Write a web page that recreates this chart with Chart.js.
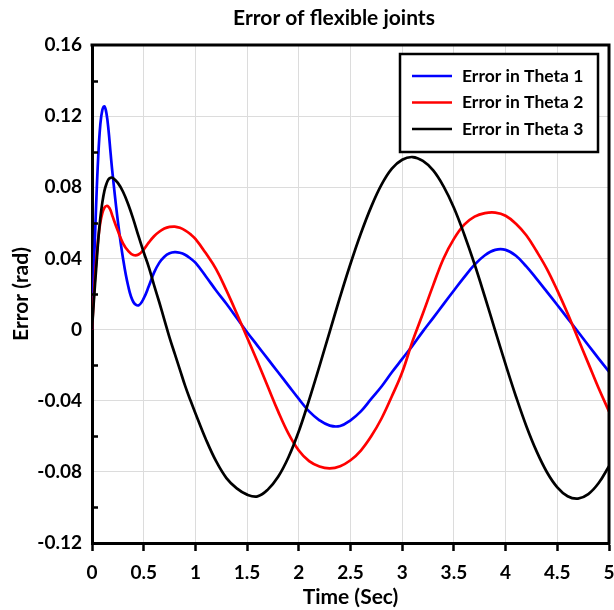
<!DOCTYPE html>
<html><head><meta charset="utf-8">
<script src="https://cdn.jsdelivr.net/npm/chart.js@4"></script>
<style>html,body{margin:0;padding:0;background:#fff}#wrap{width:614px;height:610px}</style>
</head><body><div id="wrap"><canvas id="c" width="614" height="610"></canvas></div>
<script>
const chartTitle = 'Error of flexible joints';
const xTitle = 'Time (Sec)';
const yTitle = 'Error (rad)';
const seriesNames = ['Error in Theta 1', 'Error in Theta 2', 'Error in Theta 3'];
const seriesColors = ['#0000ff', '#ff0000', '#000000'];

const timeSec = [0,0.02,0.04,0.06,0.08,0.10,0.12,0.14,0.16,0.18,0.20,
  0.25,0.30,0.35,0.40,0.45,0.50,0.55,0.60,0.65,0.70,0.75,0.80,0.85,0.90,0.95,1.0,
  1.1,1.2,1.3,1.4,1.5,1.6,1.7,1.8,1.9,2.0,2.1,2.2,2.3,2.4,2.5,2.6,2.7,2.8,2.9,3.0,
  3.1,3.2,3.3,3.4,3.5,3.6,3.7,3.8,3.9,4.0,4.1,4.2,4.3,4.4,4.5,4.6,4.7,4.8,4.9,5.0];

const theta1Err = [0,0.037,0.070,0.097,0.115,0.1235,0.1255,0.1215,0.112,0.099,0.087,
  0.061,0.040,0.0245,0.0155,0.0136,0.0175,0.0245,0.032,0.0375,0.041,0.0429,0.0435,0.0432,0.0421,0.0401,0.0376,
  0.030,0.022,0.0145,0.0065,-0.0015,-0.009,-0.0165,-0.024,-0.0315,-0.039,-0.046,-0.051,-0.054,-0.0542,-0.051,-0.046,-0.039,-0.032,-0.024,-0.0165,
  -0.009,-0.001,0.0066,0.0143,0.022,0.0295,0.0365,0.0418,0.0448,0.0448,0.0415,0.0355,0.0285,0.0212,0.0138,0.0063,-0.0012,-0.0088,-0.0163,-0.0237];

const theta2Err = [0,0.021,0.038,0.051,0.060,0.0655,0.0685,0.0695,0.069,0.067,0.0635,
  0.0555,0.0485,0.0442,0.0419,0.0422,0.045,0.049,0.0525,0.055,0.0568,0.0577,0.0579,0.0572,0.0558,0.0537,0.051,
  0.043,0.034,0.022,0.009,-0.0045,-0.018,-0.032,-0.046,-0.0585,-0.068,-0.074,-0.077,-0.078,-0.0768,-0.0735,-0.068,-0.060,-0.050,-0.0375,-0.024,
  -0.0065,0.009,0.025,0.040,0.051,0.059,0.0635,0.0655,0.0658,0.064,0.0595,0.053,0.044,0.034,0.022,0.009,-0.005,-0.019,-0.033,-0.046];

const theta3Err = [0,0.018,0.034,0.050,0.0625,0.0715,0.078,0.082,0.0845,0.0854,0.0853,
  0.0825,0.0775,0.0705,0.062,0.0525,0.0435,0.035,0.025,0.0155,0.0055,-0.0045,-0.0135,-0.0225,-0.0315,-0.0395,-0.047,
  -0.0615,-0.074,-0.0835,-0.0893,-0.0928,-0.0938,-0.0900,-0.0828,-0.0718,-0.0572,-0.0395,-0.0205,-0.0010,0.0185,0.0370,0.0540,0.0690,0.0815,0.0905,0.0955,
  0.0970,0.0948,0.0895,0.0805,0.0685,0.0535,0.0367,0.0183,-0.0007,-0.0196,-0.0376,-0.0542,-0.0685,-0.0802,-0.0887,-0.0937,-0.0950,-0.0925,-0.0863,-0.0768];

const xTickValues = [0,0.5,1,1.5,2,2.5,3,3.5,4,4.5,5];
const yTickValues = [-0.12,-0.08,-0.04,0,0.04,0.08,0.12,0.16];

const FONT = 'Lato, "Open Sans", sans-serif';
const seriesValues = [theta1Err, theta2Err, theta3Err];

const datasets = seriesNames.map((name, i) => ({
  label: name,
  data: timeSec.map((t, k) => ({x: t, y: seriesValues[i][k]})),
  borderColor: seriesColors[i],
  backgroundColor: seriesColors[i],
  borderWidth: 2.7,
  pointRadius: 0,
  fill: false,
  tension: 0.4,
  order: 3 - i
}));

const frame = {
  id: 'frame',
  afterDraw(chart) {
    const ctx = chart.ctx, a = chart.chartArea, ys = chart.scales.y;
    ctx.save();
    ctx.strokeStyle = '#000'; ctx.lineWidth = 2.5;
    for (let i = 0; i < yTickValues.length - 1; i++) {
      const mid = (yTickValues[i] + yTickValues[i+1]) / 2;
      const py = Math.round(ys.getPixelForValue(mid)) + 0.5;
      ctx.beginPath(); ctx.moveTo(a.left, py); ctx.lineTo(a.left + 6, py); ctx.stroke();
    }
    ctx.lineWidth = 3;
    ctx.beginPath();
    ctx.moveTo(a.left - 1.5, a.top); ctx.lineTo(a.right, a.top); ctx.lineTo(a.right, a.bottom + 1.5);
    ctx.stroke();
    const bx = a.right - 209, by = a.top + 9, bw = 198, bh = 98;
    ctx.fillStyle = '#fff'; ctx.fillRect(bx, by, bw, bh);
    ctx.lineWidth = 2.5; ctx.strokeStyle = '#000'; ctx.strokeRect(bx, by, bw, bh);
    ctx.font = 'bold 17.5px ' + FONT; ctx.textBaseline = 'middle'; ctx.textAlign = 'left';
    chart.data.datasets.forEach((ds, i) => {
      const ry = by + 22 + i * 26.5;
      ctx.strokeStyle = ds.borderColor; ctx.lineWidth = 2.7;
      ctx.beginPath(); ctx.moveTo(bx + 12, ry); ctx.lineTo(bx + 52, ry); ctx.stroke();
      ctx.fillStyle = '#000'; ctx.fillText(ds.label, bx + 62, ry);
    });
    ctx.font = 'bold 21px ' + FONT; ctx.textAlign = 'center';
    ctx.fillText(chartTitle, 334, 18);
    ctx.restore();
  }
};

new Chart(document.getElementById('c'), {
  type: 'line',
  data: { datasets },
  plugins: [frame],
  options: {
    responsive: false, animation: false, devicePixelRatio: 1,
    layout: { padding: { top: 45, right: 5, left: 0, bottom: 0 } },
    plugins: { legend: { display: false }, tooltip: { enabled: false }, title: { display: false } },
    scales: {
      x: {
        type: 'linear', min: 0, max: 5,
        afterBuildTicks: s => { s.ticks = xTickValues.map(v => ({value: v})); },
        afterFit: s => { s.height = 67; s.paddingLeft = 0; s.paddingRight = 0; s.paddingTop = 0; s.paddingBottom = 0; },
        grid: { color: '#dcdcdc', lineWidth: 1, drawTicks: true, tickLength: 8, tickColor: '#000', tickWidth: 2.5 },
        border: { display: true, color: '#000', width: 3 },
        ticks: { color: '#000', padding: 10, maxRotation: 0, autoSkip: false,
          font: { family: FONT, size: 19, weight: 'bold' },
          callback: v => String(v) },
        title: { display: true, text: xTitle, color: '#000', padding: { top: 0, bottom: 0 },
          font: { family: FONT, size: 21, weight: 'bold' } }
      },
      y: {
        type: 'linear', min: -0.12, max: 0.16,
        afterBuildTicks: s => { s.ticks = yTickValues.map(v => ({value: v})); },
        afterFit: s => { s.width = 92; s.paddingLeft = 0; s.paddingRight = 0; s.paddingTop = 0; s.paddingBottom = 0; },
        grid: { color: '#dcdcdc', lineWidth: 1, drawTicks: false },
        border: { display: true, color: '#000', width: 3 },
        ticks: { color: '#000', padding: 10, autoSkip: false,
          font: { family: FONT, size: 19, weight: 'bold' },
          callback: v => String(Math.round(v * 100) / 100) },
        title: { display: true, text: yTitle, color: '#000', padding: { top: 9, bottom: 0 },
          font: { family: FONT, size: 21, weight: 'bold' } }
      }
    }
  }
});
</script>
</body></html>
